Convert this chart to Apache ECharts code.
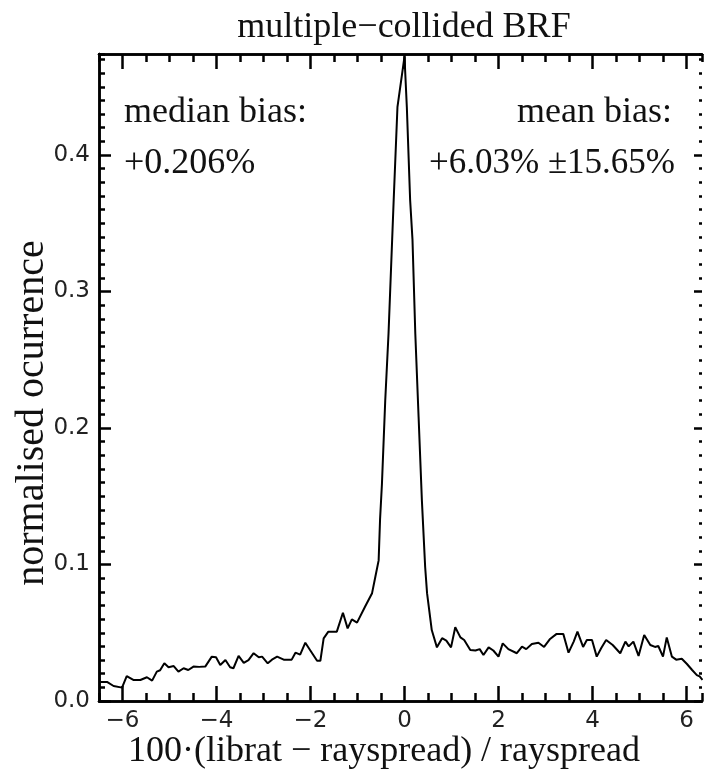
<!DOCTYPE html>
<html>
<head>
<meta charset="utf-8">
<script src="https://cdn.jsdelivr.net/npm/echarts@6/dist/echarts.min.js"></script>
<style>
  html, body { margin: 0; padding: 0; background: #fff; }
  #main { width: 704px; height: 783px; }
</style>
</head>
<body>
<div id="main"></div>
<script>
// relative difference bins (x) and normalised occurrence (y)
var xVals = [
  -6.47, -6.33, -6.19, -6.01, -5.91, -5.77, -5.62, -5.48, -5.37, -5.27, -5.20, -5.11,
  -5.02, -4.91, -4.81, -4.70, -4.60, -4.49, -4.37, -4.24, -4.10, -4.01, -3.92, -3.81,
  -3.71, -3.64, -3.53, -3.42, -3.32, -3.21, -3.10, -3.03, -2.91, -2.82, -2.71, -2.57,
  -2.40, -2.32, -2.22, -2.11, -2.01, -1.86, -1.79, -1.72, -1.62, -1.44, -1.31, -1.21,
  -1.12, -1.01, -0.84, -0.69, -0.62, -0.55, -0.52, -0.48, -0.41, -0.34, -0.23, -0.15,
  0.00, 0.05, 0.12, 0.17, 0.23, 0.30, 0.37, 0.44, 0.48, 0.58, 0.69, 0.80,
  0.89, 0.99, 1.08, 1.19, 1.27, 1.40, 1.51, 1.60, 1.68, 1.79, 1.89, 2.00,
  2.09, 2.21, 2.39, 2.50, 2.59, 2.71, 2.85, 2.97, 3.09, 3.23, 3.38, 3.49,
  3.60, 3.68, 3.80, 3.88, 3.99, 4.09, 4.19, 4.29, 4.43, 4.59, 4.70, 4.77,
  4.87, 4.98, 5.10, 5.23, 5.33, 5.40, 5.50, 5.58, 5.69, 5.78, 5.90, 6.01,
  6.12, 6.22, 6.28, 6.34
];
var yVals = [
  0.0140, 0.0140, 0.0110, 0.0098, 0.0183, 0.0154, 0.0154, 0.0174, 0.0149, 0.0215, 0.0225, 0.0276,
  0.0247, 0.0256, 0.0215, 0.0240, 0.0227, 0.0252, 0.0250, 0.0252, 0.0325, 0.0320, 0.0264, 0.0300,
  0.0247, 0.0240, 0.0330, 0.0280, 0.0300, 0.0350, 0.0320, 0.0325, 0.0276, 0.0303, 0.0325, 0.0303,
  0.0303, 0.0354, 0.0340, 0.0427, 0.0374, 0.0295, 0.0295, 0.0459, 0.0508, 0.0508, 0.0647, 0.0532,
  0.0598, 0.0574, 0.0690, 0.0790, 0.0910, 0.1030, 0.1330, 0.1590, 0.2200, 0.2690, 0.3670, 0.4350,
  0.4720, 0.4350, 0.3670, 0.3380, 0.2690, 0.2080, 0.1470, 0.0980, 0.0790, 0.0520, 0.0393, 0.0460,
  0.0442, 0.0393, 0.0540, 0.0466, 0.0447, 0.0374, 0.0370, 0.0380, 0.0337, 0.0393, 0.0370, 0.0325,
  0.0422, 0.0380, 0.0350, 0.0398, 0.0380, 0.0418, 0.0427, 0.0396, 0.0452, 0.0490, 0.0490, 0.0354,
  0.0435, 0.0508, 0.0396, 0.0447, 0.0447, 0.0325, 0.0390, 0.0447, 0.0410, 0.0350, 0.0435, 0.0400,
  0.0435, 0.0330, 0.0484, 0.0410, 0.0396, 0.0403, 0.0325, 0.0466, 0.0325, 0.0303, 0.0310, 0.0271,
  0.0227, 0.0190, 0.0180, 0.0155
];

var xMajorTicks = [-6, -4, -2, 0, 2, 4, 6];
var yMajorTicks = [0, 0.1, 0.2, 0.3, 0.4];

var titleText = 'multiple\u2212collided BRF';
var xName = '100\u00b7(librat \u2212 rayspread) / rayspread';
var yName = 'normalised ocurrence';
var medianLabel = ['median bias:', '+0.206%'];
var meanLabel = ['mean bias:', '+6.03% \u00b115.65%'];

var seriesData = xVals.map(function (x, i) { return [x, yVals[i]]; });

var serif = '"Liberation Serif", "Times New Roman", serif';
var sans = '"DejaVu Sans", sans-serif';

// x: minor ticks every 0.5, major every 2; y: minor every 0.01, major every 0.1
function xAxisOf(position, major, labels) {
  return {
    type: 'value',
    position: position,
    min: -6.5,
    max: 6.33,
    interval: major ? undefined : 0.5,
    axisLine: { show: true, onZero: false, lineStyle: { color: '#000', width: 2.5 } },
    axisTick: {
      show: true,
      inside: true,
      length: major ? 15 : 8,
      customValues: major ? xMajorTicks : undefined,
      lineStyle: { color: '#000', width: 2.5 }
    },
    axisLabel: {
      show: labels,
      customValues: labels ? xMajorTicks : undefined,
      margin: 9,
      color: '#222',
      fontFamily: sans,
      fontSize: 23,
      formatter: function (v) { return v < 0 ? '\u2212' + Math.abs(v) : String(v); }
    },
    splitLine: { show: false }
  };
}

function yAxisOf(position, major, labels) {
  var left = position === 'left';
  return {
    type: 'value',
    position: position,
    min: 0,
    max: 0.474,
    interval: major ? undefined : 0.01,
    axisLine: { show: left, onZero: false, lineStyle: { color: '#000', width: 2.5 } },
    axisTick: {
      show: true,
      inside: true,
      length: major ? (left ? 12 : 8) : (left ? 6 : 3),
      customValues: major ? yMajorTicks : undefined,
      lineStyle: { color: '#000', width: 2.5 }
    },
    axisLabel: {
      show: labels,
      customValues: labels ? yMajorTicks : undefined,
      margin: 9,
      color: '#222',
      fontFamily: sans,
      fontSize: 23,
      formatter: function (v) { return v.toFixed(1); }
    },
    splitLine: { show: false }
  };
}

var chart = echarts.init(document.getElementById('main'));

var option = {
  animation: false,
  grid: { left: 99, top: 54, right: 2, bottom: 82 },
  xAxis: [
    xAxisOf('bottom', false, false),
    xAxisOf('bottom', true, true),
    xAxisOf('top', false, false),
    xAxisOf('top', true, false)
  ],
  yAxis: [
    yAxisOf('left', false, false),
    yAxisOf('left', true, true),
    yAxisOf('right', false, false),
    yAxisOf('right', true, false)
  ],
  series: [
    {
      type: 'line',
      data: seriesData,
      showSymbol: false,
      lineStyle: { color: '#000', width: 2 }
    }
  ],
  graphic: [
    { type: 'text', x: 404, y: 28, style: { text: titleText, font: '36px ' + serif, fill: '#111', align: 'center', verticalAlign: 'middle' } },
    { type: 'text', x: 384, y: 752, style: { text: xName, font: '36px ' + serif, fill: '#111', align: 'center', verticalAlign: 'middle' } },
    { type: 'text', x: 32, y: 413, rotation: Math.PI / 2, style: { text: yName, font: '40px ' + serif, fill: '#111', align: 'center', verticalAlign: 'middle' } },
    { type: 'text', x: 124, y: 113, style: { text: medianLabel[0], font: '36px ' + serif, fill: '#111', align: 'left', verticalAlign: 'middle' } },
    { type: 'text', x: 124, y: 164, style: { text: medianLabel[1], font: '36px ' + serif, fill: '#111', align: 'left', verticalAlign: 'middle' } },
    { type: 'text', x: 672, y: 113, style: { text: meanLabel[0], font: '36px ' + serif, fill: '#111', align: 'right', verticalAlign: 'middle' } },
    { type: 'text', x: 675, y: 164, style: { text: meanLabel[1], font: '35px ' + serif, fill: '#111', align: 'right', verticalAlign: 'middle' } }
  ]
};

chart.setOption(option);

window.addEventListener('resize', function () {
  chart.resize();
});
</script>
</body>
</html>
